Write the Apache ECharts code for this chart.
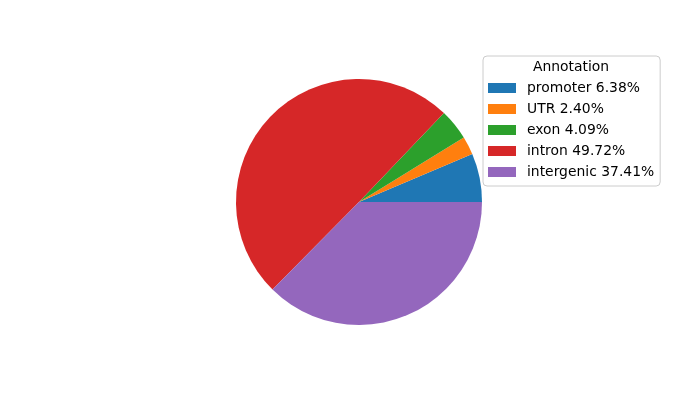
<!DOCTYPE html>
<html><head><meta charset="utf-8">
<script src="https://cdn.jsdelivr.net/npm/echarts@6/dist/echarts.min.js"></script>
<style>html,body{margin:0;padding:0;background:#fff}#c{width:700px;height:400px}</style>
</head><body><div id="c"></div>
<script>
const categories = ['promoter', 'UTR', 'exon', 'intron', 'intergenic'];
const values = [6.38, 2.40, 4.09, 49.72, 37.41];
const colors = ['#1f77b4', '#ff7f0e', '#2ca02c', '#d62728', '#9467bd'];
const legendTitle = 'Annotation';

const labelOf = {};
categories.forEach((c, i) => { labelOf[c] = c + ' ' + values[i].toFixed(2) + '%'; });

const chart = echarts.init(document.getElementById('c'), null, {renderer: 'canvas'});
chart.setOption({
  animation: false,
  backgroundColor: '#fff',
  color: colors,
  legend: {
    orient: 'vertical',
    left: 483, top: 56,
    padding: [25, 6, 7, 5],
    itemWidth: 28, itemHeight: 10, itemGap: 7,
    icon: 'rect',
    borderColor: '#cccccc', borderWidth: 1, borderRadius: 4,
    backgroundColor: 'rgba(255,255,255,0.8)',
    formatter: n => labelOf[n],
    textStyle: {fontFamily: 'DejaVu Sans', fontSize: 13.9, color: '#000', lineHeight: 14, padding: [0,0,0,6]},
    data: categories
  },
  graphic: [{
    type: 'text', left: 533, top: 60, z: 1000, zlevel: 0,
    style: {text: legendTitle, font: '13.9px "DejaVu Sans"', fill: '#000'}
  }],
  series: [{
    type: 'pie',
    center: [359, 202],
    radius: 123,
    startAngle: 0,
    clockwise: false,
    label: {show: false},
    labelLine: {show: false},
    emphasis: {disabled: true},
    data: categories.map((c, i) => ({name: c, value: values[i]}))
  }]
});
</script></body></html>
